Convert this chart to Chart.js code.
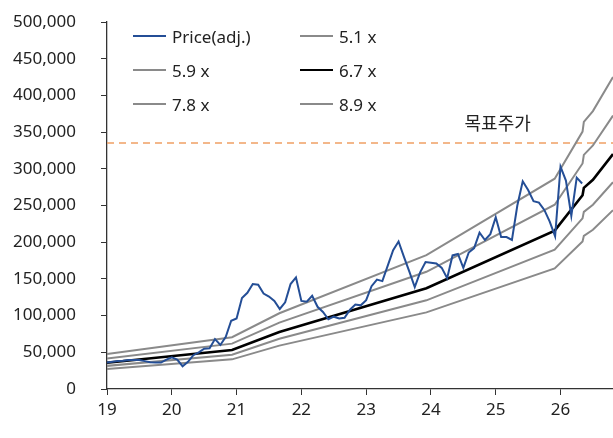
<!DOCTYPE html>
<html><head><meta charset="utf-8">
<script src="https://cdn.jsdelivr.net/npm/chart.js@4/dist/chart.umd.min.js"></script>
<style>
html,body{margin:0;padding:0;background:#fff;}
#wrap{position:relative;width:613px;height:438px;}
.lg{position:absolute;font-family:"Noto Sans",sans-serif;font-size:17px;color:#222;display:flex;align-items:center;white-space:nowrap;}
.lg span.ln{display:inline-block;width:33px;margin-right:6px;}
</style></head>
<body><div id="wrap"><canvas id="c" width="613" height="438"></canvas></div>
<script>
// ---- data ----
const xTicks = [19, 20, 21, 22, 23, 24, 25, 26];
const yearStart = 19;           // first month of price series (2019 Jan)
const priceValues = [
  36000,37000,38000,38500,39500,39500,39500,38000,36500,36000,36000,40000,
  43000,40000,31000,37000,46000,50000,55000,55500,68000,60000,71000,93000,
  96000,124000,131000,143000,142000,130000,126000,120000,109000,118000,143000,152000,
  120000,119000,127000,112000,105000,95000,98500,96000,97000,108000,115000,114000,
  121000,140000,149000,147000,168000,189000,201000,180000,160000,139000,159000,173000,
  172000,171000,165000,151000,182000,184000,165000,186000,192000,213000,203000,211000,
  234000,207000,207000,203000,250000,283000,271000,256000,254000,244000,228000,208000,
  303000,284000,236000,288000,280000
];
const bandX   = [19.0, 20.93, 21.66, 23.93, 25.91, 26.34, 26.36, 26.50, 26.81];
const band51  = [27250, 40400, 59100, 104400, 164200, 201000, 208600, 216900, 243600];
const band59  = [31500, 46800, 68400, 120800, 189900, 232500, 241300, 251000, 281800];
const band67  = [35800, 53100, 77700, 137200, 215700, 264000, 274000, 285000, 320000];
const band78  = [41700, 61800, 90500, 159700, 251100, 307300, 319000, 331800, 372500];
const band89  = [47600, 70500, 103200, 182300, 286500, 350700, 364000, 378600, 425100];
const targetPrice = 335000;
const targetLabel = '목표주가';
const seriesNames = ['Price(adj.)', '5.1 x', '5.9 x', '6.7 x', '7.8 x', '8.9 x'];

// ---- build ----
const pricePts = priceValues.map((v, i) => ({x: yearStart + i / 12, y: v}));
const toPts = arr => arr.map((v, i) => ({x: bandX[i], y: v}));
const GRAY = '#8a8a8a', BLUE = '#244e96', BLACK = '#000000', ORANGE = '#f0a064';

const datasets = [
  {label: seriesNames[0], data: pricePts, borderColor: BLUE, borderWidth: 2, order: 0},
  {label: seriesNames[3], data: toPts(band67), borderColor: BLACK, borderWidth: 2.6, order: 1},
  {label: seriesNames[1], data: toPts(band51), borderColor: GRAY, borderWidth: 2, order: 2},
  {label: seriesNames[2], data: toPts(band59), borderColor: GRAY, borderWidth: 2, order: 2},
  {label: seriesNames[4], data: toPts(band78), borderColor: GRAY, borderWidth: 2, order: 2},
  {label: seriesNames[5], data: toPts(band89), borderColor: GRAY, borderWidth: 2, order: 2},
  {label: 'target', data: [{x: xTicks[0], y: targetPrice}, {x: bandX[bandX.length-1], y: targetPrice}],
   borderColor: ORANGE, borderWidth: 1.5, borderDash: [7, 5], order: 3}
];
datasets.forEach(d => { d.pointRadius = 0; d.tension = 0; d.fill = false; });

const targetPlugin = {
  id: 'targetLabel',
  afterDatasetsDraw(chart) {
    const {ctx, scales} = chart;
    const y = scales.y.getPixelForValue(targetPrice);
    ctx.save();
    ctx.font = '18px "Noto Sans CJK KR"';
    ctx.fillStyle = '#222';
    ctx.textAlign = 'center';
    ctx.textBaseline = 'alphabetic';
    ctx.fillText(targetLabel, scales.x.getPixelForValue(25.03), y - 13);
    ctx.restore();
  }
};

const FONT = {family: '"Noto Sans", sans-serif', size: 17};
new Chart(document.getElementById('c'), {
  type: 'line',
  data: {datasets},
  options: {
    responsive: false, animation: false, events: [],
    layout: {padding: {top: 22, right: 0, left: 0, bottom: 0}},
    plugins: {legend: {display: false}, tooltip: {enabled: false}},
    scales: {
      x: {
        type: 'linear', min: 19, max: bandX[bandX.length-1],
        afterBuildTicks: s => { s.ticks = xTicks.map(v => ({value: v})); },
        afterFit: s => { s.height = 49; },
        ticks: {color: '#222', font: FONT, padding: 5, maxRotation: 0, callback: v => String(v)},
        grid: {display: true, drawOnChartArea: false, drawTicks: true, tickLength: 6, color: '#333', lineWidth: 1},
        border: {display: true, color: '#333', width: 1.3}
      },
      y: {
        min: 0, max: 500000,
        afterFit: s => { s.width = 107; s.paddingTop = 0; s.paddingBottom = 0; },
        ticks: {stepSize: 50000, color: '#222', font: FONT, padding: 25,
                callback: v => v.toLocaleString('en-US')},
        grid: {display: true, drawOnChartArea: false, drawTicks: true, tickLength: 6, color: '#333', lineWidth: 1},
        border: {display: true, color: '#333', width: 1.3}
      }
    }
  },
  plugins: [targetPlugin]
});

// ---- legend (HTML text) ----
const legendItems = [
  {name: seriesNames[0], color: BLUE, w: 2, left: 133, top: 36},
  {name: seriesNames[1], color: GRAY, w: 2, left: 300, top: 36},
  {name: seriesNames[2], color: GRAY, w: 2, left: 133, top: 70},
  {name: seriesNames[3], color: BLACK, w: 2.6, left: 300, top: 70},
  {name: seriesNames[4], color: GRAY, w: 2, left: 133, top: 104},
  {name: seriesNames[5], color: GRAY, w: 2, left: 300, top: 104}
];
const wrap = document.getElementById('wrap');
legendItems.forEach(it => {
  const d = document.createElement('div');
  d.className = 'lg';
  d.style.left = it.left + 'px';
  d.style.top = (it.top - 12) + 'px';
  d.style.height = '24px';
  d.innerHTML = '<span class="ln" style="border-top:' + it.w + 'px solid ' + it.color + '"></span>';
  const t = document.createElement('span');
  t.textContent = it.name;
  d.appendChild(t);
  wrap.appendChild(d);
});
</script></body></html>
